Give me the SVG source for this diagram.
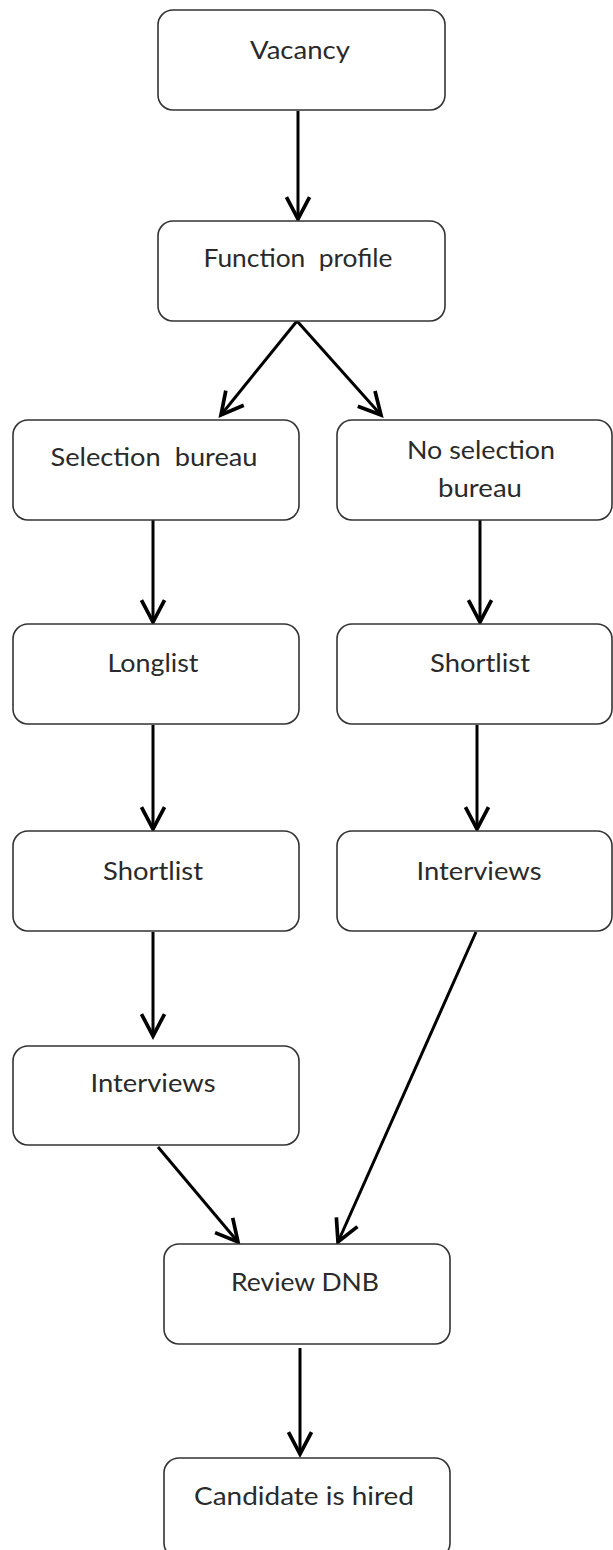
<svg xmlns="http://www.w3.org/2000/svg" width="613" height="1550" viewBox="0 0 613 1550">
<style>
.box{fill:#fff;stroke:#333;stroke-width:1.6}
.lbl{font-family:Lato,"Open Sans","Liberation Sans",sans-serif;font-size:25px;fill:#2a2a2a;text-anchor:middle}
.edge{stroke:#000;stroke-width:3;fill:none;marker-end:url(#arr)}
</style>
<defs>
<marker id="arr" markerUnits="userSpaceOnUse" markerWidth="30" markerHeight="30" viewBox="-22 -13 26 26" refX="0" refY="0" orient="auto">
<path d="M-19,-10 L0,0 L-19,10" fill="none" stroke="#000" stroke-width="3.2" stroke-linejoin="miter"/>
</marker>
</defs>
<rect width="613" height="1550" fill="#fff"/>
<g id="connectors">
<line class="edge" x1="298" y1="111" x2="298" y2="219"/>
<line class="edge" x1="297" y1="321" x2="221" y2="415"/>
<line class="edge" x1="297" y1="321" x2="381" y2="415"/>
<line class="edge" x1="153" y1="520" x2="153" y2="622"/>
<line class="edge" x1="480" y1="520" x2="480" y2="622"/>
<line class="edge" x1="153" y1="725" x2="153" y2="829"/>
<line class="edge" x1="477" y1="725" x2="477" y2="829"/>
<line class="edge" x1="153" y1="932" x2="153" y2="1036"/>
<line class="edge" x1="158" y1="1147" x2="238" y2="1242"/>
<line class="edge" x1="476" y1="932" x2="338" y2="1242"/>
<line class="edge" x1="300" y1="1348" x2="300" y2="1454"/>
</g>
<g id="vacancy"><rect class="box" x="158" y="10" width="287" height="100" rx="15"/><text class="lbl" x="300" y="59" textLength="100" lengthAdjust="spacingAndGlyphs">Vacancy</text></g>
<g id="function-profile"><rect class="box" x="158" y="221" width="287" height="100" rx="15"/><text class="lbl" x="298" y="267" textLength="189" lengthAdjust="spacingAndGlyphs" xml:space="preserve">Function  profile</text></g>
<g id="selection-bureau"><rect class="box" x="13" y="420" width="286" height="100" rx="15"/><text class="lbl" x="154" y="466" textLength="207" lengthAdjust="spacingAndGlyphs" xml:space="preserve">Selection  bureau</text></g>
<g id="no-selection-bureau"><rect class="box" x="337" y="420" width="275" height="100" rx="15"/><text class="lbl" x="481" y="459" textLength="148" lengthAdjust="spacingAndGlyphs">No selection</text><text class="lbl" x="480" y="497" textLength="84" lengthAdjust="spacingAndGlyphs">bureau</text></g>
<g id="longlist"><rect class="box" x="13" y="624" width="286" height="100" rx="15"/><text class="lbl" x="153" y="672" textLength="91" lengthAdjust="spacingAndGlyphs">Longlist</text></g>
<g id="shortlist-right"><rect class="box" x="337" y="624" width="275" height="100" rx="15"/><text class="lbl" x="480" y="672" textLength="100" lengthAdjust="spacingAndGlyphs">Shortlist</text></g>
<g id="shortlist-left"><rect class="box" x="13" y="831" width="286" height="100" rx="15"/><text class="lbl" x="153" y="880" textLength="100" lengthAdjust="spacingAndGlyphs">Shortlist</text></g>
<g id="interviews-right"><rect class="box" x="337" y="831" width="275" height="100" rx="15"/><text class="lbl" x="479" y="880" textLength="125" lengthAdjust="spacingAndGlyphs">Interviews</text></g>
<g id="interviews-left"><rect class="box" x="13" y="1046" width="286" height="99" rx="15"/><text class="lbl" x="153" y="1092" textLength="125" lengthAdjust="spacingAndGlyphs">Interviews</text></g>
<g id="review-dnb"><rect class="box" x="164" y="1244" width="286" height="100" rx="15"/><text class="lbl" x="305" y="1291" textLength="148" lengthAdjust="spacingAndGlyphs">Review DNB</text></g>
<g id="candidate-hired"><rect class="box" x="164" y="1458" width="286" height="100" rx="15"/><text class="lbl" x="304" y="1505" textLength="220" lengthAdjust="spacingAndGlyphs">Candidate is hired</text></g>
</svg>
